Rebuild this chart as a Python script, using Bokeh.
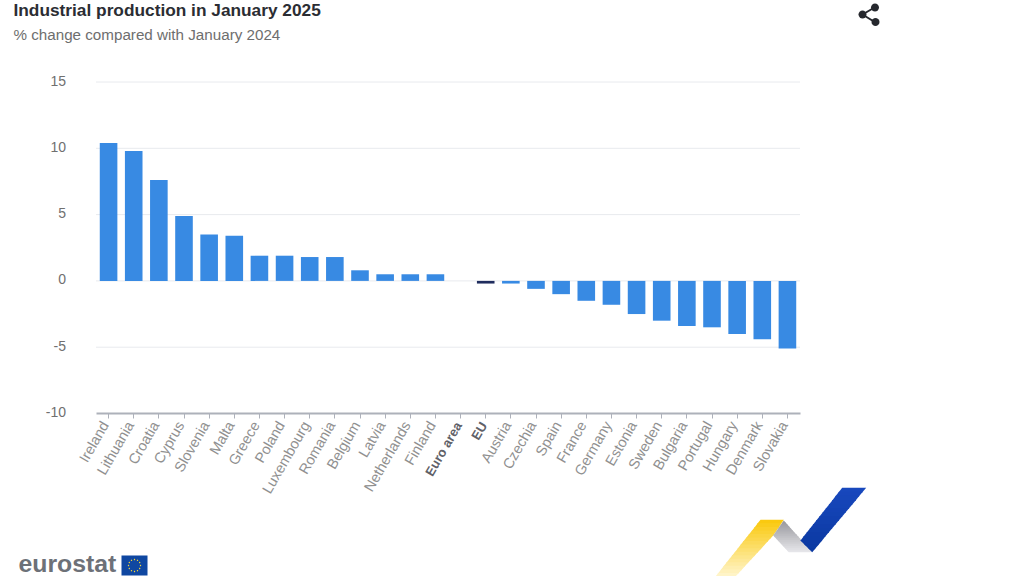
import math
from bokeh.core.properties import value
from bokeh.embed import file_html
from bokeh.resources import INLINE
from bokeh.models import ColumnDataSource, FixedTicker, LinearAxis, Range1d
from bokeh.plotting import figure

# ---- data ----
countries = ["Ireland", "Lithuania", "Croatia", "Cyprus", "Slovenia", "Malta", "Greece", "Poland",
             "Luxembourg", "Romania", "Belgium", "Latvia", "Netherlands", "Finland", "Euro area", "EU",
             "Austria", "Czechia", "Spain", "France", "Germany", "Estonia", "Sweden", "Bulgaria",
             "Portugal", "Hungary", "Denmark", "Slovakia"]
values = [10.4, 9.8, 7.6, 4.9, 3.5, 3.4, 1.9, 1.9, 1.8, 1.8, 0.8, 0.5, 0.5, 0.5, 0.0, -0.2,
          -0.2, -0.6, -1.0, -1.5, -1.8, -2.5, -3.0, -3.4, -3.5, -4.0, -4.4, -5.1]
aggregates = ["Euro area", "EU"]
y_ticks = [-10, -5, 0, 5, 10, 15]
y_tick_labels = ["-10", "-5", "0", "5", "10", "15"]
title_text = "Industrial production in January 2025"
subtitle_text = "% change compared with January 2024"

BAR = "#388ae3"
AGG = "#1f2d5e"
colors = [AGG if c in aggregates else BAR for c in countries]
positions = list(range(len(countries)))

# layout: page pixels of the plotting area
W, H = 1024, 576
PX0, PX1, PY_TOP, PY_BOT = 95.5, 799.5, 81.5, 413
ppx = (PX1 - PX0) / len(countries)
ppy = (PY_BOT - PY_TOP) / 25
x_to = lambda page: (page - PX0) / ppx - 0.5
y_to = lambda page: -10 + (PY_BOT - page) / ppy
LABEL_DX = 3.5   # tick labels sit this many px left of their ticks
LABEL_DY = 1.5   # value labels sit this many px above their grid lines

p = figure(width=W, height=H,
           x_range=Range1d(x_to(0), x_to(W)), y_range=Range1d(y_to(H), y_to(0)),
           output_backend="svg", toolbar_location=None,
           min_border=0, min_border_left=0, min_border_right=0, min_border_top=0, min_border_bottom=0)
p.extra_x_ranges["page"] = Range1d(0, W)
p.extra_y_ranges["page"] = Range1d(H, 0)
p.extra_x_ranges["xlabels"] = Range1d(x_to(LABEL_DX), x_to(W + LABEL_DX))
p.extra_y_ranges["ylabels"] = Range1d(y_to(H + LABEL_DY), y_to(LABEL_DY))
p.outline_line_color = None
p.background_fill_color = "white"
p.border_fill_color = "white"
p.xgrid.visible = False
p.ygrid.visible = False

# horizontal grid lines limited to the plotting area
n = len(countries)
p.segment(x0=[-0.5] * len(y_ticks[1:]), x1=[n - 0.5] * len(y_ticks[1:]), y0=y_ticks[1:], y1=y_ticks[1:],
          line_color="#e8eaee", line_width=1)

src = ColumnDataSource(dict(x=positions, top=values, color=colors))
p.vbar(x="x", top="top", bottom=0, width=0.7, fill_color="color", line_color=None, source=src)

ya = p.yaxis[0]
ya.y_range_name = "ylabels"
ya.fixed_location = -0.5
ya.ticker = FixedTicker(ticks=y_ticks)
ya.major_label_overrides = dict(zip(y_ticks, y_tick_labels))
ya.axis_line_color = None
ya.major_tick_line_color = None
ya.minor_tick_line_color = None
ya.major_label_standoff = 24
ya.major_label_text_font = "Liberation Sans"
ya.major_label_text_font_size = "14px"
ya.major_label_text_color = "#707070"

# axis line and tick marks
xa = p.xaxis[0]
xa.fixed_location = -10
xa.bounds = (-0.5, n - 0.5)
xa.ticker = FixedTicker(ticks=positions)
xa.axis_line_color = "#adb1ba"
xa.axis_line_width = 2
xa.major_tick_line_color = "#adb1ba"
xa.major_tick_in = 0
xa.major_tick_out = 5
xa.minor_tick_line_color = None
xa.major_label_text_font_size = "0px"
xa.major_label_overrides = {i: "" for i in positions}

# country names
xl = LinearAxis(x_range_name="xlabels", fixed_location=-10, axis_line_color=None,
                major_tick_line_color=None, minor_tick_line_color=None,
                ticker=FixedTicker(ticks=positions), major_label_orientation=math.radians(60),
                major_label_standoff=3, major_label_text_font="Liberation Sans",
                major_label_text_font_size="14.5px", major_label_text_color="#909090",
                major_label_overrides={i: ("" if c in aggregates else c) for i, c in enumerate(countries)})
p.add_layout(xl, "below")

# bold aggregate labels
agg_x = [countries.index(c) for c in aggregates]
p.text(x=[i - 2 / ppx for i in agg_x], y=[y_to(PY_BOT + 9.5)] * len(agg_x), text=aggregates,
       angle=math.radians(60), text_align="right", text_baseline="middle",
       text_font=value("Liberation Sans"), text_font_style="bold",
       text_font_size="13px", text_color="#5f6168")


def txt(x, y, s, size, color, style="normal"):
    p.text(x=[x], y=[y], text=[s], x_range_name="page", y_range_name="page",
           text_font=value("Liberation Sans"), text_font_size=size, text_color=color,
           text_font_style=style, text_align="left", text_baseline="middle")


def poly(pts, color):
    p.patch([a for a, _ in pts], [b for _, b in pts], x_range_name="page", y_range_name="page",
            fill_color=color, line_color=None)


def circle(cx, cy, r, color):
    poly([(cx + r * math.cos(i * math.pi / 8), cy + r * math.sin(i * math.pi / 8)) for i in range(16)], color)


def clip_band(pts, y0, y1):
    def clip(pts, keep, cross):
        out = []
        for i, a in enumerate(pts):
            b = pts[(i + 1) % len(pts)]
            if keep(a):
                out.append(a)
            if keep(a) != keep(b):
                t = (cross - a[1]) / (b[1] - a[1])
                out.append((a[0] + t * (b[0] - a[0]), cross))
        return out
    r = clip(pts, lambda q: q[1] >= y0, y0)
    return clip(r, lambda q: q[1] <= y1, y1) if r else r


def mix(c0, c1, t):
    return "#%02x%02x%02x" % tuple(round(a + (b - a) * t) for a, b in zip(c0, c1))


def gradient(pts, stops, n=16):
    ys = [q[1] for q in pts]
    lo, hi = min(ys), max(ys)
    for i in range(n):
        y0 = lo + (hi - lo) * i / n
        y1 = lo + (hi - lo) * (i + 1) / n + (1.0 if i < n - 1 else 0)
        band = clip_band(pts, y0, y1)
        if len(band) >= 3:
            poly(band, mix(stops[0], stops[1], (i + .5) / n))


txt(13, 9, title_text, "17.3px", "#2b2d33", "bold")
txt(13, 34, subtitle_text, "15.2px", "#6e6e6e")

# share icon
for a, b in [((862, 14), (874, 7)), ((862, 14), (875, 22))]:
    dx, dy = b[0] - a[0], b[1] - a[1]
    d = math.hypot(dx, dy)
    nx, ny = -dy / d, dx / d
    poly([(a[0] + nx, a[1] + ny), (b[0] + nx, b[1] + ny), (b[0] - nx, b[1] - ny), (a[0] - nx, a[1] - ny)], "#26282e")
for cx, cy in [(862, 14), (874.5, 7), (875, 21.5)]:
    circle(cx, cy, 4, "#26282e")

# ribbon logo
gradient([(760, 519.3), (783.3, 519.3), (772.7, 535), (735, 576), (715, 576)], ((250, 200, 10), (255, 245, 205)))
gradient([(783.3, 520), (811.7, 551.7), (788.3, 551.7), (772.7, 535)], ((150, 150, 155), (232, 232, 236)))
gradient([(841.7, 487.3), (865.7, 487.3), (811.7, 551.7), (800, 540)], ((24, 72, 190), (10, 56, 160)))

# eurostat word mark
txt(18, 562.5, "eurostat", "24.8px", "#6d7178", "bold")
poly([(121, 555), (147, 555), (147, 575), (121, 575)], "#0f47a1")
for i in range(12):
    a = i * math.pi / 6
    circle(134 + 6 * math.cos(a), 565 + 6 * math.sin(a), 0.7, "#f2d43c")

open("out.html", "w").write(file_html(p, INLINE))
